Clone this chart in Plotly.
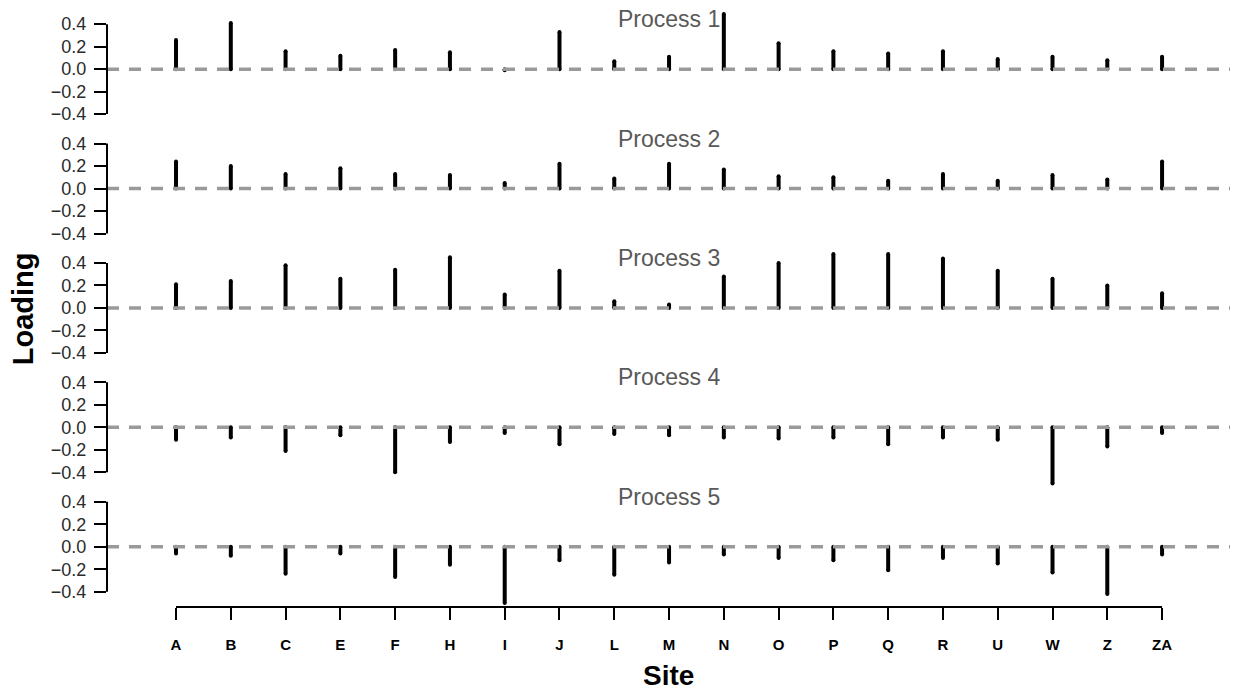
import plotly.graph_objects as go
from plotly.subplots import make_subplots

# Sites along the x axis
sites = ["A", "B", "C", "E", "F", "H", "I", "J", "L", "M", "N",
         "O", "P", "Q", "R", "U", "W", "Z", "ZA"]

# Loadings of each site on each process
process_1 = [0.26, 0.41, 0.16, 0.12, 0.17, 0.15, -0.01, 0.33, 0.07, 0.11, 0.49,
             0.23, 0.16, 0.14, 0.16, 0.09, 0.11, 0.08, 0.11]
process_2 = [0.24, 0.20, 0.13, 0.18, 0.13, 0.12, 0.05, 0.22, 0.09, 0.22, 0.17,
             0.11, 0.10, 0.07, 0.13, 0.07, 0.12, 0.08, 0.24]
process_3 = [0.21, 0.24, 0.38, 0.26, 0.34, 0.45, 0.12, 0.33, 0.06, 0.03, 0.28,
             0.40, 0.48, 0.48, 0.44, 0.33, 0.26, 0.20, 0.13]
process_4 = [-0.11, -0.09, -0.21, -0.07, -0.40, -0.13, -0.05, -0.15, -0.06, -0.07, -0.09,
             -0.10, -0.09, -0.15, -0.09, -0.11, -0.50, -0.17, -0.05]
process_5 = [-0.06, -0.08, -0.24, -0.06, -0.27, -0.16, -0.50, -0.12, -0.25, -0.14, -0.07,
             -0.10, -0.12, -0.21, -0.10, -0.15, -0.23, -0.42, -0.07]

processes = [process_1, process_2, process_3, process_4, process_5]
process_names = ["Process 1", "Process 2", "Process 3", "Process 4", "Process 5"]

y_ticks = [-0.4, -0.2, 0.0, 0.2, 0.4]
y_tick_labels = ["\u22120.4", "\u22120.2", "0.0", "0.2", "0.4"]

FONT = "Liberation Sans, Arial, sans-serif"
n = len(processes)

fig = make_subplots(rows=n, cols=1, shared_xaxes=True, vertical_spacing=0)

positions = list(range(len(sites)))

for k, values in enumerate(processes, start=1):
    yname = "y" if k == 1 else f"y{k}"
    xs, ys = [], []
    for i, v in zip(positions, values):
        xs += [i, i, None]
        ys += [0, v, None]
    fig.add_trace(
        go.Scatter(
            x=xs, y=ys, mode="lines+markers",
            line=dict(color="black", width=4),
            marker=dict(color="black", size=4, line=dict(width=0)),
            hoverinfo="skip", showlegend=False,
        ),
        row=k, col=1,
    )

    # dashed reference line at zero
    fig.add_shape(
        type="line", xref="paper", yref=yname, x0=0, x1=1, y0=0, y1=0,
        line=dict(color="#9a9a9a", width=3.5, dash="12px,10px"),
        layer="above",
    )
    # y axis spine spanning the tick range only
    fig.add_shape(
        type="line", xref="paper", yref=yname, x0=0, x1=0,
        y0=y_ticks[0], y1=y_ticks[-1],
        line=dict(color="black", width=2),
    )
    # panel heading
    fig.add_annotation(
        text=process_names[k - 1], xref="paper", yref=f"{yname} domain",
        x=0.5, y=0.923, xanchor="center", yanchor="middle", showarrow=False,
        font=dict(family=FONT, size=23, color="#595959"),
    )

    fig.update_yaxes(
        range=[-0.536, 0.526], tickvals=y_ticks, ticktext=y_tick_labels,
        ticks="outside", ticklen=12, tickwidth=2, tickcolor="black",
        ticklabelstandoff=4,
        showline=False, showgrid=False, zeroline=False,
        tickfont=dict(family=FONT, size=18, color="#2b2b2b"),
        row=k, col=1,
    )
    fig.update_xaxes(
        range=[-1.26, 19.24], showgrid=False, zeroline=False, showline=False,
        showticklabels=False, ticks="", row=k, col=1,
    )

# bottom site axis
fig.update_xaxes(
    tickvals=positions, ticktext=sites, showticklabels=True,
    ticks="outside", ticklen=12, tickwidth=2, tickcolor="black",
    ticklabelstandoff=12,
    tickfont=dict(family=FONT, size=15, color="black", weight="bold"),
    row=n, col=1,
)
fig.add_shape(
    type="line", xref="x", yref="paper", x0=positions[0], x1=positions[-1],
    y0=0, y1=0, line=dict(color="black", width=2),
)

fig.add_annotation(
    text="<b>Site</b>", xref="paper", yref="paper", x=0.5, y=-0.114,
    xanchor="center", yanchor="middle", showarrow=False,
    font=dict(family=FONT, size=28, color="black"),
)
fig.add_annotation(
    text="<b>Loading</b>", xref="paper", yref="paper", x=-0.075, y=0.5,
    xanchor="center", yanchor="middle", textangle=-90, showarrow=False,
    font=dict(family=FONT, size=29, color="black"),
)

fig.update_layout(
    width=1239, height=692,
    margin=dict(l=107, r=9, t=10, b=85),
    plot_bgcolor="white", paper_bgcolor="white",
)

fig.write_html("out.html")
